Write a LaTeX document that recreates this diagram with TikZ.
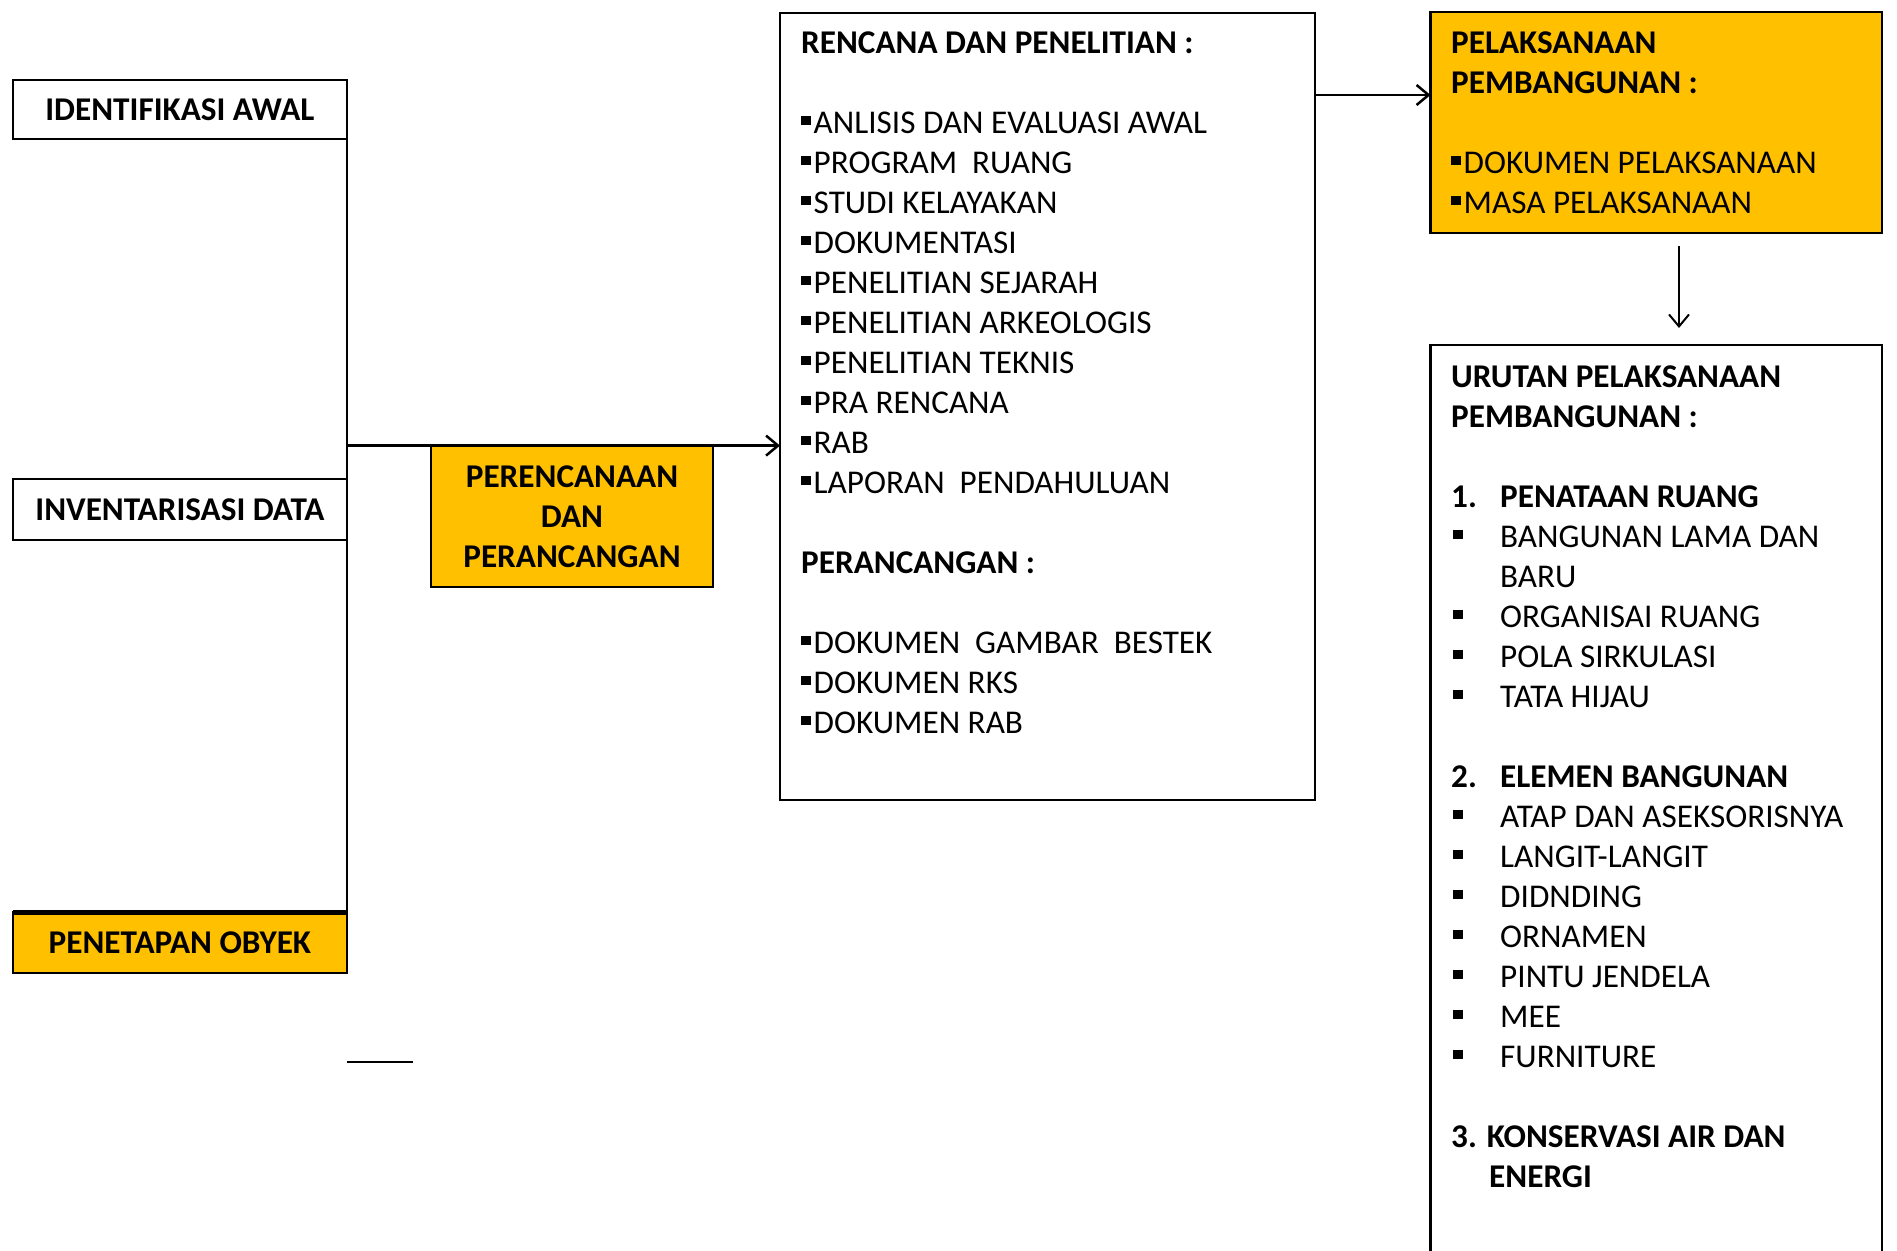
\documentclass[tikz,border=0pt]{standalone}
\usepackage{fontspec}
\setmainfont{Carlito}
\usetikzlibrary{arrows.meta}
\definecolor{gold}{HTML}{FFC000}
\newcommand\bul{\rule[8pt]{10pt}{9.5pt}}
\newcommand\bx[1]{\makebox[49pt][l]{#1}}
\newcommand\txtblock[2]{\parbox[t]{#1}{\raggedright\lineskiplimit=-100pt #2}}
\begin{document}
\begin{tikzpicture}[x=1pt,y=-1pt,
  box/.style={draw=black, line width=2.5pt, rectangle, inner sep=0pt, outer sep=0pt, fill=white,
    font=\fontsize{33.2}{40}\selectfont\bfseries, align=center},
  yel/.style={box, fill=gold},
  body/.style={anchor=base west, inner sep=0pt, font=\fontsize{33.2}{40}\selectfont},
  conn/.style={line width=2.5pt},
  arr/.style={line width=2.5pt, -{Straight Barb[length=12pt,width=20pt]}},
  arrthin/.style={line width=2pt, -{Straight Barb[length=12pt,width=20pt]}}]
\useasboundingbox (0,0) rectangle (1897,1250);
\clip (0,0) rectangle (1897,1250);
\fill[white] (0,0) rectangle (1897,1250);

% left column
\node[box, minimum width=334.3pt, minimum height=59pt] (ident) at (179.9,109.5) {IDENTIFIKASI AWAL};
\node[box, minimum width=334.3pt, minimum height=61pt] (inven) at (179.9,509.5) {INVENTARISASI DATA};
\node[yel, minimum width=334.3pt, minimum height=61pt] (penet) at (179.9,942.5) {PENETAPAN OBYEK};
\draw[line width=5pt] (penet.north west) -- (penet.north east);

% middle
\node[yel, minimum width=282pt, minimum height=141.4pt] (peren) at (572,516.3) {PERENCANAAN\\DAN\\PERANCANGAN};

\node[box, minimum width=535pt, minimum height=787pt] (rencana) at (1047.5,406.5) {};
\node[body] (rencanatxt) at (801,53) {\txtblock{500pt}{%
\textbf{RENCANA DAN PENELITIAN :}\\[40pt]
\bul\kern2.5pt ANLISIS DAN EVALUASI AWAL\\
\bul\kern2.5pt PROGRAM\ \ RUANG\\
\bul\kern2.5pt STUDI KELAYAKAN\\
\bul\kern2.5pt DOKUMENTASI\\
\bul\kern2.5pt PENELITIAN SEJARAH\\
\bul\kern2.5pt PENELITIAN ARKEOLOGIS\\
\bul\kern2.5pt PENELITIAN TEKNIS\\
\bul\kern2.5pt PRA RENCANA\\
\bul\kern2.5pt RAB\\
\bul\kern2.5pt LAPORAN\ \ PENDAHULUAN\\[40pt]
\textbf{PERANCANGAN :}\\[40pt]
\bul\kern2.5pt DOKUMEN\ \ GAMBAR\ \ BESTEK\\
\bul\kern2.5pt DOKUMEN RKS\\
\bul\kern2.5pt DOKUMEN RAB}};

% right column
\node[yel, minimum width=451.5pt, minimum height=221pt] (pelak) at (1656.25,122.5) {};
\node[body] (pelaktxt) at (1451,53) {\txtblock{420pt}{%
\textbf{PELAKSANAAN}\\
\textbf{PEMBANGUNAN :}\\[40pt]
\bul\kern2.5pt DOKUMEN PELAKSANAAN\\
\bul\kern2.5pt MASA PELAKSANAAN}};

\node[box, minimum width=451.5pt, minimum height=955pt] (urutan) at (1656.25,822.5) {};
\node[body] (urutantxt) at (1451,387) {\txtblock{420pt}{%
\textbf{URUTAN PELAKSANAAN}\\
\textbf{PEMBANGUNAN :}\\[40pt]
\textbf{\bx{1.}PENATAAN RUANG}\\
\bx{\kern2pt\bul}BANGUNAN LAMA DAN\\
\bx{}BARU\\
\bx{\kern2pt\bul}ORGANISAI RUANG\\
\bx{\kern2pt\bul}POLA SIRKULASI\\
\bx{\kern2pt\bul}TATA HIJAU\\[40pt]
\textbf{\bx{2.}ELEMEN BANGUNAN}\\
\bx{\kern2pt\bul}ATAP DAN ASEKSORISNYA\\
\bx{\kern2pt\bul}LANGIT-LANGIT\\
\bx{\kern2pt\bul}DIDNDING\\
\bx{\kern2pt\bul}ORNAMEN\\
\bx{\kern2pt\bul}PINTU JENDELA\\
\bx{\kern2pt\bul}MEE\\
\bx{\kern2pt\bul}FURNITURE\\[40pt]
\textbf{3. KONSERVASI AIR DAN}\\
\textbf{\hspace*{38pt}ENERGI}}};

% connectors
\draw[conn] (ident.north east) -- (penet.north east);
\coordinate (junc) at (347,445.6);
\draw[arr] (junc) -- (junc -| rencana.west);
\coordinate (toparr) at (1315,95);
\draw[arr] (toparr) -- (toparr -| pelak.west);
\draw[arrthin] ([xshift=22.75pt,yshift=-13pt]pelak.south) -- ([xshift=22.75pt,yshift=17pt]urutan.north);
\coordinate (s1) at (347,1062);
\coordinate (s2) at (413,1062);
\draw[conn] (s1) -- (s2);
\end{tikzpicture}
\end{document}
